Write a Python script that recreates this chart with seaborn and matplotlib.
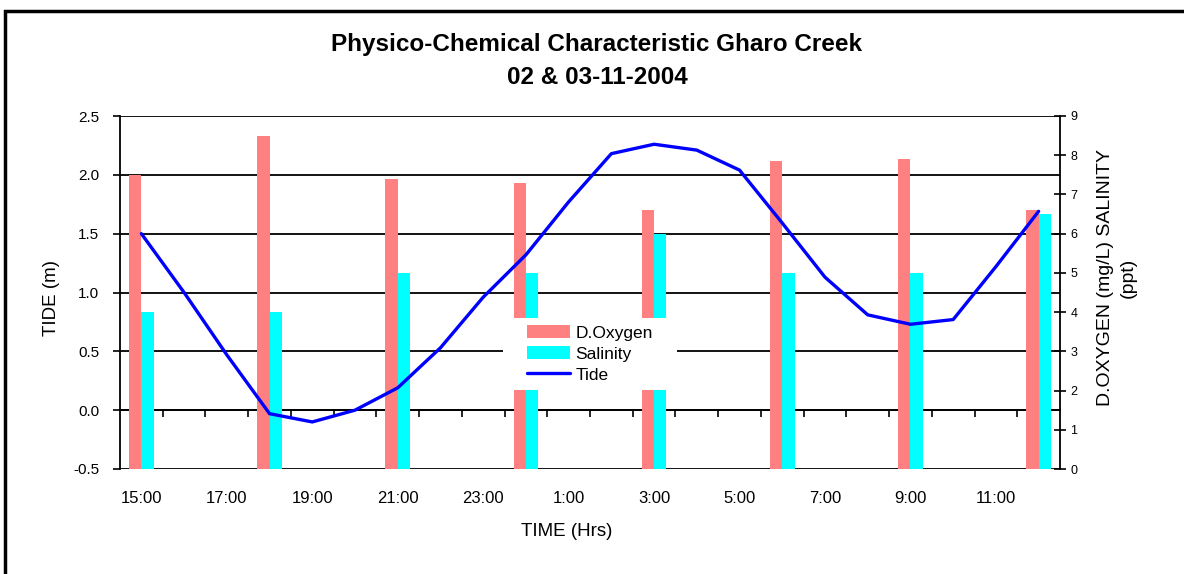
import numpy as np
import pandas as pd
import matplotlib
matplotlib.use("Agg")
import matplotlib.pyplot as plt
import seaborn as sns
from matplotlib.patches import Rectangle, Patch
from matplotlib.lines import Line2D

# ---------------- data ----------------
hours = ["15:00", "16:00", "17:00", "18:00", "19:00", "20:00", "21:00", "22:00",
         "23:00", "0:00", "1:00", "2:00", "3:00", "4:00", "5:00", "6:00", "7:00",
         "8:00", "9:00", "10:00", "11:00", "12:00"]
tide = [1.50, 1.00, 0.47, -0.03, -0.10, 0.00, 0.19, 0.53, 0.96, 1.32, 1.77,
        2.18, 2.26, 2.21, 2.04, 1.59, 1.13, 0.81, 0.73, 0.77, 1.22, 1.69]
sample_times = ["15:00", "18:00", "21:00", "0:00", "3:00", "6:00", "9:00", "12:00"]
d_oxygen = [7.5, 8.5, 7.4, 7.3, 6.6, 7.85, 7.9, 6.6]
salinity = [4.0, 4.0, 5.0, 5.0, 6.0, 5.0, 5.0, 6.5]
shown_labels = ["15:00", "17:00", "19:00", "21:00", "23:00", "1:00", "3:00",
                "5:00", "7:00", "9:00", "11:00"]
tide_ticks = [-0.5, 0.0, 0.5, 1.0, 1.5, 2.0, 2.5]
right_ticks = list(range(0, 10))

series_names = ["D.Oxygen", "Salinity"]
colors = {"D.Oxygen": "#FF8080", "Salinity": "#00FFFF"}
tide_color = "#0000FF"

bars = pd.DataFrame({
    "time": sample_times * 2,
    "value": d_oxygen + salinity,
    "param": ["D.Oxygen"] * len(d_oxygen) + ["Salinity"] * len(salinity),
})

# ---------------- style ----------------
sns.set_style("white")
plt.rcParams["font.family"] = ["Liberation Sans", "DejaVu Sans"]
plt.rcParams["text.color"] = "black"
plt.rcParams["axes.labelcolor"] = "black"
plt.rcParams["xtick.color"] = "black"
plt.rcParams["ytick.color"] = "black"

W, H = 1184, 574
fig = plt.figure(figsize=(W / 100, H / 100), dpi=100)
L, R, T, B = 120, 1060, 116, 469
ax = fig.add_axes([L / W, 1 - B / H, (R - L) / W, (B - T) / H])

# tide axis (left) with grid
ax.set_ylim(-0.5, 2.5)
ax.set_yticks(tide_ticks)
ax.set_yticklabels([f"{v:.1f}" for v in tide_ticks])
ax.yaxis.grid(True, color="black", linewidth=1.3)
ax.xaxis.grid(False)
ax.set_axisbelow(True)
for s in ["top", "right"]:
    ax.spines[s].set_visible(False)
ax.spines["left"].set_color("black")
ax.spines["left"].set_linewidth(1.3)
ax.spines["bottom"].set_position(("data", 0))
ax.spines["bottom"].set_color("black")
ax.spines["bottom"].set_linewidth(1.3)
ax.tick_params(axis="y", direction="out", length=5, width=1.2, labelsize=11,
               pad=10, colors="black", left=True)

# bars (right axis)
ax2 = ax.twinx()
sns.barplot(data=bars, x="time", y="value", hue="param", order=hours,
            hue_order=series_names, palette=colors, saturation=1,
            width=0.58, dodge=True, errorbar=None, linewidth=0,
            legend=False, ax=ax2)
ax2.set_ylim(0, 9)
ax2.set_yticks(right_ticks)
ax2.set_yticklabels([str(v) for v in right_ticks])
ax2.tick_params(axis="y", direction="inout", length=9, width=1.2, labelsize=9,
                pad=3, colors="black", right=True)
for s in ["top", "left", "bottom"]:
    ax2.spines[s].set_visible(False)
ax2.spines["right"].set_visible(True)
ax2.spines["right"].set_color("black")
ax2.spines["right"].set_linewidth(1.3)
ax2.set_ylabel("")
ax2.set_xlabel("")
ax2.grid(False)

# tide line on top
ax3 = ax.twinx()
sns.lineplot(x=np.arange(len(hours)), y=tide, ax=ax3, color=tide_color,
             linewidth=2.4)
ax3.set_ylim(-0.5, 2.5)
ax3.yaxis.set_visible(False)
for s in ax3.spines.values():
    s.set_visible(False)
ax3.grid(False)

# x axis ticks (shared)
ax.set_xlim(-0.5, len(hours) - 0.5)
ax.set_xticks([hours.index(h) for h in shown_labels])
ax.set_xticklabels(shown_labels)
ax.set_xticks(np.arange(0.5, len(hours) - 1, 1.0), minor=True)
ax.tick_params(axis="x", which="major", length=0, labelsize=12, pad=58,
               colors="black")
ax.tick_params(axis="x", which="minor", direction="out", length=5, width=1.2,
               colors="black", bottom=True)
ax.set_xlabel("")
ax.set_ylabel("")

# legend: white box behind, entries centered in it
ax3.add_patch(Rectangle(((503 - L) / (R - L), (B - 390) / (B - T)),
                        174 / (R - L), 72 / (B - T), transform=ax3.transAxes,
                        facecolor="white", edgecolor="none", zorder=9,
                        clip_on=False))
handles = [Patch(facecolor=colors["D.Oxygen"], edgecolor="none"),
           Patch(facecolor=colors["Salinity"], edgecolor="none"),
           Line2D([0], [0], color=tide_color, linewidth=2.4)]
leg = ax3.legend(handles, ["D.Oxygen", "Salinity", "Tide"], loc="center",
                 bbox_to_anchor=(0.5, 0.326), frameon=False,
                 fontsize=12.5, handlelength=2.5, handleheight=0.8,
                 handletextpad=0.3, labelspacing=0.3, borderpad=0.3,
                 borderaxespad=0)
leg.set_zorder(10)

# titles and axis labels
fig.text(597 / W, 1 - 45 / H, "Physico-Chemical Characteristic Gharo Creek",
         ha="center", va="center", fontsize=17.5, fontweight="bold")
fig.text(597 / W, 1 - 77 / H, "02 & 03-11-2004", ha="center", va="center",
         fontsize=17.5, fontweight="bold")
fig.text(567 / W, 1 - 532 / H, "TIME (Hrs)", ha="center", va="center",
         fontsize=13.5)
fig.text(52 / W, 1 - 298 / H, "TIDE (m)", ha="center", va="center",
         rotation=90, fontsize=13.5)
fig.text(1117 / W, 1 - 278 / H, "D.OXYGEN (mg/L) SALINITY\n(ppt)",
         ha="center", va="center", rotation=90, fontsize=14,
         multialignment="center", linespacing=1.4)

# outer frame
fig.add_artist(Rectangle((5 / W, -0.1), 1.5, 1.1 - 11 / H,
                         transform=fig.transFigure, fill=False,
                         edgecolor="black", linewidth=2.5))

fig.savefig("out.png", dpi=100, facecolor="white")
